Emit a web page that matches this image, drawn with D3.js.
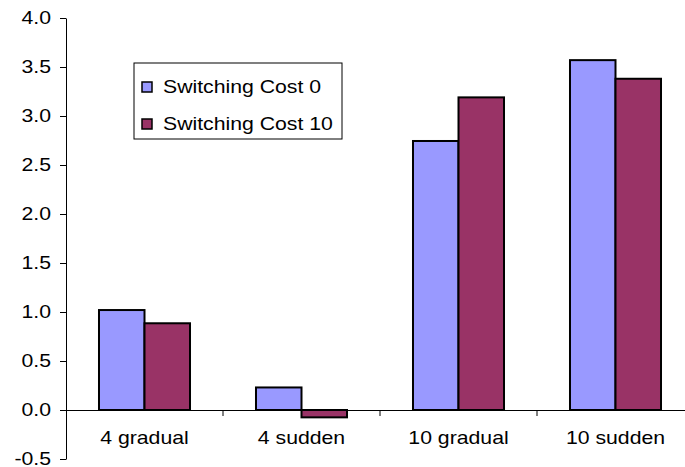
<!DOCTYPE html>
<html>
<head>
<meta charset="utf-8">
<script src="https://cdn.jsdelivr.net/npm/d3@7"></script>
<style>
  body { margin: 0; background: #fff; }
  svg { display: block; font-family: Arial, "Liberation Sans", sans-serif; }
</style>
</head>
<body>
<svg id="chart" width="685" height="467"></svg>
<script>
const categories = ["4 gradual", "4 sudden", "10 gradual", "10 sudden"];
const seriesNames = ["Switching Cost 0", "Switching Cost 10"];
const cost0 = [1.02, 0.23, 2.745, 3.57];
const cost10 = [0.885, -0.075, 3.19, 3.38];
const yTicks = [-0.5, 0, 0.5, 1.0, 1.5, 2.0, 2.5, 3.0, 3.5, 4.0];
const colors = ["#9999FF", "#993366"];

const FONT = "Arial, 'Liberation Sans', sans-serif";
const FS = 18;       // label font size
const STRETCH = 1.18; // horizontal widening of label glyphs

const svg = d3.select("#chart");
const plotLeft = 66, plotRight = 694, plotTop = 18, plotBottom = 459;

const y = d3.scaleLinear().domain([-0.5, 4.0]).range([plotBottom, plotTop]);
const x = d3.scaleBand().domain(categories).range([plotLeft, plotRight]);
const inner = d3.scaleBand().domain(seriesNames).range([0, x.bandwidth()]).paddingInner(0).paddingOuter(0.725);

const series = [cost0, cost10];

// widen a text element horizontally around its anchor point (ax, ay)
function stretchText(sel, ax, ay) {
  sel.attr("x", 0).attr("y", 0)
    .attr("transform", `translate(${ax},${ay}) scale(${STRETCH},1)`);
}

// y axis
const fmt = v => v.toFixed(1);
const yAxis = d3.axisLeft(y).tickValues(yTicks).tickFormat(fmt).tickSize(6).tickSizeOuter(0);
const gy = svg.append("g").attr("transform", `translate(${plotLeft},0)`).call(yAxis);
gy.select(".domain").attr("stroke", "#000").attr("stroke-width", 1);
gy.selectAll(".tick line").attr("stroke", "#000");
gy.selectAll(".tick text")
  .attr("font-size", FS).attr("fill", "#000").attr("font-family", FONT)
  .attr("dy", "0.33em").attr("text-anchor", "end")
  .each(function () { stretchText(d3.select(this), -15, 0); });

// bars
categories.forEach((c, i) => {
  seriesNames.forEach((s, j) => {
    const v = series[j][i];
    svg.append("rect")
      .attr("x", x(c) + inner(s))
      .attr("y", y(Math.max(0, v)))
      .attr("width", inner.bandwidth())
      .attr("height", Math.abs(y(v) - y(0)))
      .attr("fill", colors[j])
      .attr("stroke", "#000")
      .attr("stroke-width", 2);
  });
});

// category axis on the zero line
const xAxis = d3.axisBottom(x).tickSize(0).tickSizeOuter(0);
const gx = svg.append("g").attr("transform", `translate(0,${y(0)})`).call(xAxis);
gx.select(".domain").attr("stroke", "#000").attr("stroke-width", 1);
gx.selectAll(".tick text")
  .attr("font-size", FS).attr("fill", "#000").attr("font-family", FONT)
  .attr("dy", 0).attr("text-anchor", "middle")
  .each(function () { stretchText(d3.select(this), 0, 34); });
// separators between categories
categories.slice(1).forEach(c => {
  gx.append("line").attr("x1", x(c)).attr("x2", x(c)).attr("y1", 0).attr("y2", 6).attr("stroke", "#000");
});

// legend
const lg = svg.append("g").attr("transform", "translate(134,63)");
lg.append("rect").attr("width", 208).attr("height", 76).attr("fill", "#fff").attr("stroke", "#000").attr("stroke-width", 1);
seriesNames.forEach((s, j) => {
  const row = lg.append("g").attr("transform", `translate(0,${j * 37})`);
  row.append("rect").attr("x", 8).attr("y", 19).attr("width", 10).attr("height", 10)
    .attr("fill", colors[j]).attr("stroke", "#000").attr("stroke-width", 1.5);
  row.append("text").attr("font-size", FS).attr("fill", "#000").attr("font-family", FONT)
    .text(s)
    .call(t => stretchText(t, 29, 29.5));
});
</script>
</body>
</html>
